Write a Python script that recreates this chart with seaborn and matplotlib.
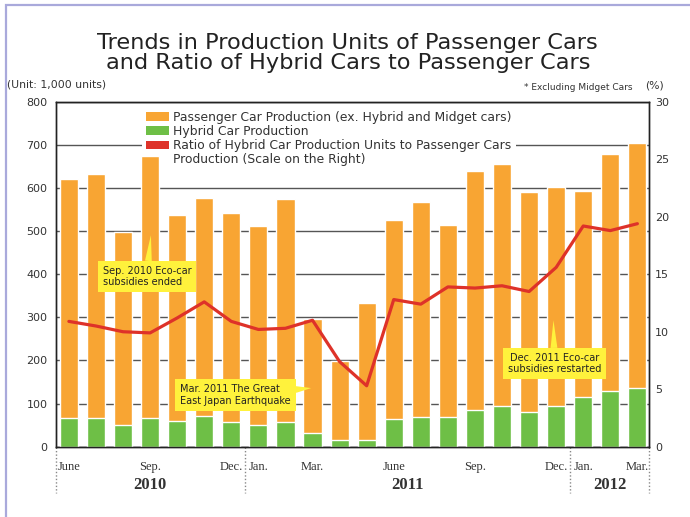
import numpy as np
import pandas as pd
import matplotlib
matplotlib.use('Agg')
import matplotlib.pyplot as plt
import matplotlib.transforms as mtrans
from matplotlib.patches import Patch, Rectangle
import seaborn as sns

# DATA (1,000 units / %)
months = ['2010-06', '2010-07', '2010-08', '2010-09', '2010-10', '2010-11', '2010-12',
          '2011-01', '2011-02', '2011-03', '2011-04', '2011-05', '2011-06', '2011-07',
          '2011-08', '2011-09', '2011-10', '2011-11', '2011-12',
          '2012-01', '2012-02', '2012-03']
total_prod = [620, 632, 497, 674, 537, 578, 541, 513, 574, 296, 199, 334,
              526, 568, 514, 640, 656, 591, 602, 593, 679, 704]
hybrid_prod = [66, 66, 50, 66, 59, 71, 57, 50, 57, 32, 15, 15,
               64, 69, 69, 85, 95, 81, 95, 116, 129, 136]
hybrid_ratio = [10.9, 10.5, 10.0, 9.9, 11.2, 12.6, 10.9, 10.2, 10.3, 11.0, 7.4, 5.3,
                12.8, 12.4, 13.9, 13.8, 14.0, 13.5, 15.6, 19.2, 18.8, 19.4]
month_labels = ['June', '', '', 'Sep.', '', '', 'Dec.', 'Jan.', '', 'Mar.', '', '',
                'June', '', '', 'Sep.', '', '', 'Dec.', 'Jan.', '', 'Mar.']
years = ['2010', '2011', '2012']
year_pos = [3, 12.5, 20]

df = pd.DataFrame({'month': months, 'total': total_prod, 'hybrid': hybrid_prod,
                   'ratio': hybrid_ratio})
df['pos'] = np.arange(len(df))

orange = '#F8A533'
green = '#6EBF46'
red = '#DE3229'
yellow = '#FFF23C'

sns.set_theme(style='white')
plt.rcParams['font.family'] = ['DejaVu Sans']

fig = plt.figure(figsize=(6.9, 5.17), dpi=100)
ax = fig.add_axes([0.081, 0.136, 0.86, 0.667])

sns.barplot(data=df, x='month', y='total', color=orange, saturation=1,
            width=0.67, errorbar=None, ax=ax, zorder=2)
sns.barplot(data=df, x='month', y='hybrid', color=green, saturation=1,
            width=0.67, errorbar=None, ax=ax, zorder=3)

ax.set_xlim(-0.48, 21.44)
ax.set_ylim(0, 800)
ax.set_yticks(range(0, 801, 100))
ax.yaxis.grid(True, color='#555555', lw=1)
ax.set_axisbelow(True)
ax.set_xlabel('')
ax.set_ylabel('')
ax.tick_params(axis='y', length=0, labelsize=8, colors='#333333', pad=6)
ax.set_xticks(range(len(months)))
ax.set_xticklabels(month_labels, family='Liberation Serif', fontsize=9, color='#333333')
ax.tick_params(axis='x', length=5, width=1, color='#444444', pad=5)
for s in ax.spines.values():
    s.set_color('#222222')
    s.set_linewidth(1)

# legend sits between the grid and the bars
handles = [Patch(fc=orange, ec='none'), Patch(fc=green, ec='none'),
           Patch(fc=red, ec='none'), Patch(fc='none', ec='none')]
labels = ['Passenger Car Production (ex. Hybrid and Midget cars)',
          'Hybrid Car Production',
          'Ratio of Hybrid Car Production Units to Passenger Cars',
          'Production (Scale on the Right)']
leg = ax.legend(handles, labels, loc='upper left', bbox_to_anchor=(0.145, 0.985),
                fontsize=8.9, handlelength=1.9, handleheight=0.65, handletextpad=0.35,
                labelspacing=0.1, borderpad=0.3, borderaxespad=0, frameon=True,
                fancybox=False, framealpha=1, facecolor='white', edgecolor='none')
leg.set_zorder(1)
for t in leg.get_texts():
    t.set_color('#333333')

ax2 = ax.twinx()
sns.lineplot(data=df, x='pos', y='ratio', color=red, lw=2.3, ax=ax2)
ax2.set_ylim(0, 30)
ax2.set_yticks(range(0, 31, 5))
ax2.set_ylabel('')
ax2.set_xlabel('')
ax2.tick_params(axis='y', length=0, labelsize=8, colors='#333333', pad=4)
ax2.set_xlim(-0.48, 21.44)
for s in ax2.spines.values():
    s.set_color('#222222')
    s.set_linewidth(1)

# year labels and dotted separators
trans = mtrans.blended_transform_factory(ax.transData, ax.transAxes)
for yr, p in zip(years, year_pos):
    ax.text(p, -0.112, yr, transform=trans, ha='center', va='center',
            family='Liberation Serif', fontweight='bold', fontsize=12, color='#333333')
for xs in [-0.48, 6.5, 18.5, 21.44]:
    ax.plot([xs, xs], [0, -0.134], transform=trans, clip_on=False,
            color='#888888', lw=1, ls=(0, (1, 1.5)))

# callouts
box = dict(boxstyle='square,pad=0.5', fc=yellow, ec='none')
arrow = dict(arrowstyle='wedge,tail_width=0.7,shrink_factor=0.5', fc=yellow, ec='none',
             shrinkA=0, shrinkB=0)
ax2.annotate('Sep. 2010 Eco-car\nsubsidies ended', xy=(3.03, 18.4), xytext=(2.88, 14.8),
             ha='center', va='center', multialignment='left', fontsize=7,
             color='#222222', bbox=box, arrowprops=arrow, zorder=6)
ax2.annotate('Mar. 2011 The Great\nEast Japan Earthquake', xy=(8.95, 5.1), xytext=(6.16, 4.49),
             ha='center', va='center', multialignment='left', fontsize=7,
             color='#222222', bbox=box, arrowprops=arrow, zorder=6)
ax2.annotate('Dec. 2011 Eco-car\nsubsidies restarted', xy=(17.9, 11.0), xytext=(17.93, 7.23),
             ha='center', va='center', multialignment='center', fontsize=7,
             color='#222222', bbox=box, arrowprops=arrow, zorder=6)

# titles and notes
fig.text(0.504, 0.898, 'Trends in Production Units of Passenger Cars\nand Ratio of Hybrid Cars to Passenger Cars',
         ha='center', va='center', fontsize=16.2, linespacing=1.0, color='#222222')
fig.text(0.010, 0.836, '(Unit: 1,000 units)', ha='left', va='center', fontsize=7.8, color='#333333')
fig.text(0.917, 0.831, '* Excluding Midget Cars', ha='right', va='center', fontsize=6.5, color='#333333')
fig.text(0.948, 0.835, '(%)', ha='center', va='center', fontsize=7.8, color='#333333')

# lavender frame
fig.add_artist(Rectangle((5.5 / 690, -0.2), 1.5, 1.2 - 5.0 / 517, transform=fig.transFigure,
                         fill=False, ec='#A9A9DB', lw=1.6))

fig.savefig('out.png', dpi=100)
